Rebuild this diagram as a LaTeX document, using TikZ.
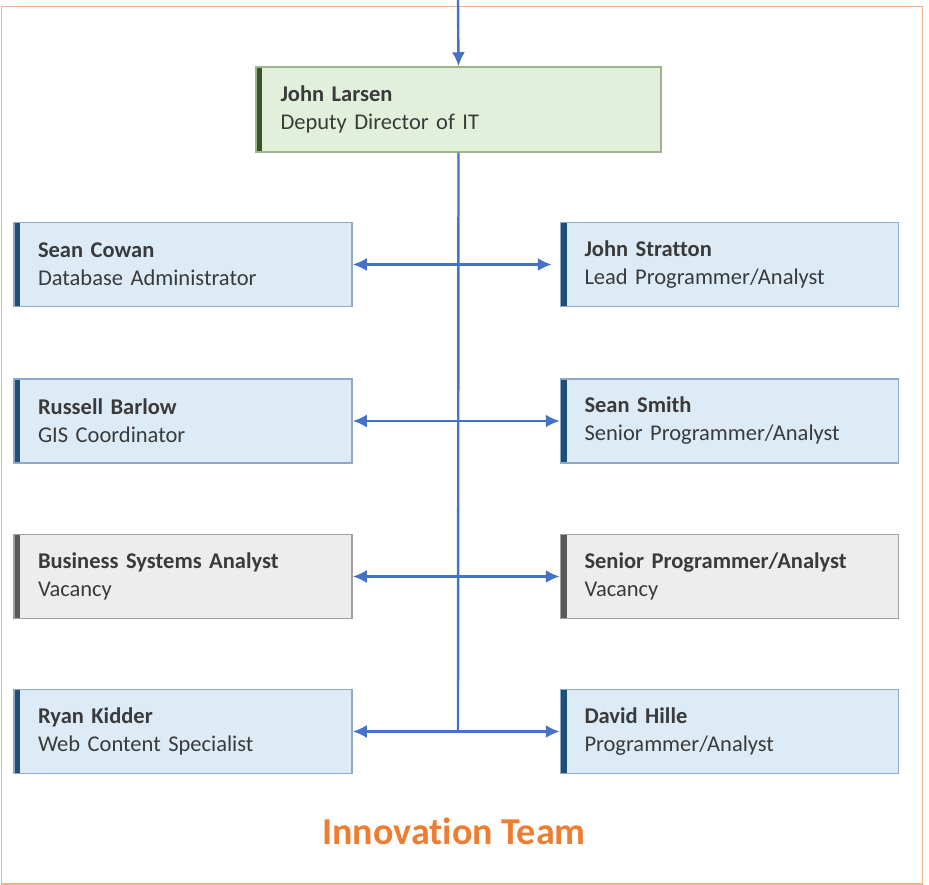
\documentclass[tikz,border=0pt]{standalone}
\usepackage{fontspec}
\setmainfont[Ligatures=NoCommon]{Carlito}
\usetikzlibrary{arrows.meta}
\definecolor{conn}{HTML}{4472C4}
\definecolor{frameor}{HTML}{F4B183}
\definecolor{bluefill}{HTML}{DDEBF7}
\definecolor{blueedge}{HTML}{8FAAC6}
\definecolor{bluebar}{HTML}{1F4E79}
\definecolor{grayfill}{HTML}{EDEDED}
\definecolor{grayedge}{HTML}{A0A0A0}
\definecolor{graybar}{HTML}{595959}
\definecolor{greenfill}{HTML}{E2EFDA}
\definecolor{greenedge}{HTML}{9CB58C}
\definecolor{greenbar}{HTML}{375623}
\definecolor{titleor}{HTML}{ED7D31}
\definecolor{txt}{HTML}{3A3A3A}
\tikzset{
  card/.style={draw=#1edge, fill=#1fill, line width=1.5pt, minimum width=338pt, minimum height=84pt,
    inner xsep=0pt, text width=290pt, align=left, text=txt,
    font=\fontsize{22.5}{28}\selectfont,
    path picture={\fill[#1bar] (path picture bounding box.north west) rectangle ([xshift=6pt]path picture bounding box.south west);}},
  link/.style={draw=conn, line width=2.4pt},
  tip/.style={-{Latex[length=14pt,width=13pt]}}
}
\begin{document}
\begin{tikzpicture}[x=1pt,y=-1pt]
\useasboundingbox (0,0) rectangle (929,885);
\draw[frameor, line width=1.8pt] (1.5,6.5) rectangle (922.5,884);
% top box
\node[card=green, minimum width=405pt, minimum height=85pt, text width=356pt] (jl) at (458.5,109.5)
  {\textbf{John Larsen}\\Deputy Director of IT};
% left column
\node[card=blue] (sc) at (183,264.5) {\textbf{Sean Cowan}\\Database Administrator};
\node[card=blue] (rb) at (183,421) {\textbf{Russell Barlow}\\GIS Coordinator};
\node[card=gray] (bsa) at (183,576.5) {\textbf{Business Systems Analyst}\\Vacancy};
\node[card=blue] (rk) at (183,731.5) {\textbf{Ryan Kidder}\\Web Content Specialist};
% right column
\node[card=blue] (js) at (729.5,264.5) {\textbf{John Stratton}\\Lead Programmer/Analyst};
\node[card=blue] (ss) at (729.5,421) {\textbf{Sean Smith}\\Senior Programmer/Analyst};
\node[card=gray] (spa) at (729.5,576.5) {\textbf{Senior Programmer/Analyst}\\Vacancy};
\node[card=blue] (dh) at (729.5,731.5) {\textbf{David Hille}\\Programmer/Analyst};
% title
\node[text=titleor, font=\fontsize{38}{44}\selectfont\bfseries] (title) at (454,831) {Innovation Team};
% connectors
\coordinate (top) at (458,0);
\coordinate (j1) at (458,264.5);
\coordinate (j2) at (458,421);
\coordinate (j3) at (458,576.5);
\coordinate (j4) at (458,731.5);
\draw[link, tip] (top) -- (jl.north);
\draw[link] (jl.south) -- (j4);
\draw[link, tip] (j1) -- (sc.east);
\draw[link, tip] (j1) -- ([xshift=-8pt]js.west);
\draw[link, tip] (j2) -- (rb.east);
\draw[link, tip] (j2) -- (ss.west);
\draw[link, tip] (j3) -- (bsa.east);
\draw[link, tip] (j3) -- (spa.west);
\draw[link, tip] (j4) -- (rk.east);
\draw[link, tip] (j4) -- (dh.west);
\end{tikzpicture}
\end{document}
